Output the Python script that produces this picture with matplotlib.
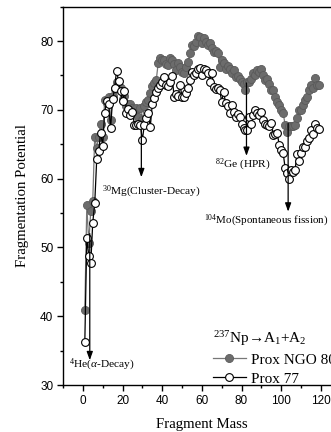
import matplotlib
matplotlib.use("Agg")
import matplotlib.pyplot as plt
from matplotlib.ticker import MultipleLocator

plt.rcParams['mathtext.fontset'] = 'custom'
plt.rcParams['mathtext.rm'] = 'Liberation Serif'
plt.rcParams['mathtext.it'] = 'Liberation Serif:italic'

mass = list(range(1, 120))

prox77 = [36.3, 51.4, 48.8, 47.7, 53.6, 56.4, 62.8, 64.0, 66.7, 64.8,
          69.6, 71.3, 70.8, 67.4, 71.5, 73.1, 75.7, 74.2, 72.7, 71.3,
          72.7, 69.6, 70.1, 69.2, 69.7, 67.8, 67.8, 67.9, 67.8, 65.6,
          67.8, 68.8, 69.5, 67.5, 70.8, 71.7, 72.6, 73.1, 73.6, 74.1,
          74.8, 73.6, 73.4, 74.1, 74.9, 71.9, 72.3, 72.0, 73.6, 71.9,
          71.8, 72.5, 73.1, 74.3, 75.5, 75.0, 75.3, 76.0, 76.1, 75.0,
          75.9, 75.8, 75.4, 74.1, 75.4, 73.3, 73.0, 73.1, 72.9, 71.2,
          72.6, 71.0, 70.5, 69.5, 70.7, 69.7, 69.0, 69.4, 68.9, 68.0,
          67.4, 67.1, 67.1, 69.0, 68.0, 69.2, 70.0, 69.5, 69.2, 69.7,
          68.5, 68.0, 67.8, 67.6, 68.1, 66.3, 66.5, 66.6, 64.9, 64.2,
          63.7, 61.5, 60.8, 60.0, 61.3, 61.0, 61.3, 63.6, 62.5, 63.7,
          64.6, 64.6, 65.4, 65.9, 67.0, 66.5, 68.0, 67.3, 67.2]

ngo80 = [40.9, 56.1, 50.7, 55.3, 56.8, 66.1, 64.5, 66.1, 68.0, 66.0,
         71.4, 71.0, 71.9, 68.5, 72.0, 73.0, 74.0, 73.5, 73.2, 71.5,
         72.0, 70.5, 70.9, 70.9, 70.2, 69.5, 70.2, 69.0, 70.2, 68.5,
         70.5, 71.2, 71.4, 72.4, 73.5, 73.9, 74.3, 76.8, 77.5, 77.2,
         77.3, 76.6, 76.5, 77.5, 77.2, 76.6, 75.8, 76.8, 76.2, 75.5,
         75.4, 76.2, 77.0, 78.2, 79.4, 79.3, 79.8, 80.7, 80.6, 79.7,
         80.5, 79.9, 79.4, 79.7, 79.0, 78.4, 78.6, 78.2, 76.2, 77.2,
         76.8, 76.0, 76.4, 76.0, 75.3, 75.8, 74.8, 74.9, 74.5, 74.1,
         73.8, 72.9, 74.0, 74.1, 74.5, 75.3, 75.0, 75.8, 75.5, 76.0,
         75.0, 74.3, 74.5, 73.8, 72.9, 72.9, 71.8, 71.2, 70.7, 70.0,
         69.5, 67.8, 66.8, 67.6, 67.7, 67.6, 67.8, 68.8, 70.0, 70.0,
         70.7, 71.4, 71.9, 72.9, 73.6, 73.2, 74.6, 73.6, 73.6]

# annotations: (label, x, y_start, y_end, text_x, text_y)
annot_labels = [r"$^{4}$He($\alpha$-Decay)", r"$^{30}$Mg(Cluster-Decay)",
                r"$^{82}$Ge (HPR)", r"$^{104}$Mo(Spontaneous fission)"]
annot_x = [3.5, 29.5, 82.5, 103.5]
annot_y0 = [52.0, 67.0, 73.9, 68.0]
annot_y1 = [33.6, 60.2, 63.3, 55.2]
annot_tx = [-7.1, 9.5, 66.4, 61.0]
annot_ty = [32.9, 58.1, 62.0, 53.8]
annot_size = [8.2, 8.2, 8.2, 7.9]

legend_title = r"$^{237}$Np→A$_1$+A$_2$"
series_names = ["Prox NGO 80", "Prox 77"]

W, H = 331, 432
fig = plt.figure(figsize=(W / 100, H / 100), dpi=100)
ax = fig.add_axes([63 / W, 47 / H, 277.7 / W, 378.4 / H])

serif = ['Liberation Serif', 'DejaVu Serif']
sans = ['Liberation Sans', 'DejaVu Sans']

l1, = ax.plot(mass, ngo80, '-', color='#777777', lw=0.9, marker='o', ms=5.8,
              mfc='#6c6c6c', mec='#5a5a5a', mew=0.6, label=series_names[0], zorder=3)
l2, = ax.plot(mass, prox77, '-', color='black', lw=0.9, marker='o', ms=5.6,
              mfc='white', mec='black', mew=0.8, label=series_names[1], zorder=4)

for lab, x, y0, y1, tx, ty, fs in zip(annot_labels, annot_x, annot_y0, annot_y1,
                                      annot_tx, annot_ty, annot_size):
    ax.annotate('', xy=(x, y1), xytext=(x, y0),
                arrowprops=dict(arrowstyle='-|>,head_length=0.5,head_width=0.18',
                                color='black', lw=0.9, shrinkA=0, shrinkB=0), zorder=5)
    ax.text(tx, ty, lab, family=serif, fontsize=fs, va='center', ha='left', zorder=6)

ax.set_xlim(-10, 130)
ax.set_ylim(30, 85)
ax.xaxis.set_major_locator(MultipleLocator(20))
ax.xaxis.set_minor_locator(MultipleLocator(10))
ax.yaxis.set_major_locator(MultipleLocator(10))
ax.yaxis.set_minor_locator(MultipleLocator(5))
ax.tick_params(which='both', direction='out', top=False, right=False, width=1.0)
ax.tick_params(which='major', length=4, labelsize=8.5, pad=3)
ax.tick_params(which='minor', length=2)
for t in ax.get_xticklabels() + ax.get_yticklabels():
    t.set_family(sans)
for s in ax.spines.values():
    s.set_linewidth(1.0)

ax.set_xlabel("Fragment Mass", family=serif, fontsize=10.7, labelpad=8)
ax.set_ylabel("Fragmentation Potential", family=serif, fontsize=10.7, labelpad=8)

leg = ax.legend(handles=[l1, l2], title=legend_title, loc='upper left',
                bbox_to_anchor=(205 / W, 1 - 321 / H), bbox_transform=fig.transFigure,
                frameon=False, borderpad=0, handlelength=2.2, handletextpad=0.3,
                labelspacing=0.35, prop={'family': serif, 'size': 11},
                title_fontproperties={'family': serif, 'size': 11})
leg._legend_box.align = 'left'

fig.savefig('out.png', dpi=100)
